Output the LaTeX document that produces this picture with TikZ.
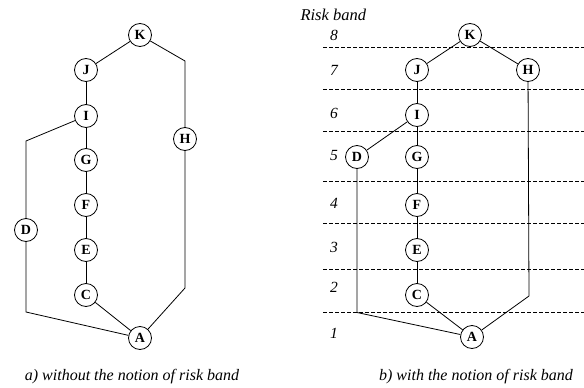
\documentclass[tikz,border=0pt]{standalone}
\usepackage{fontspec}
\setmainfont{Liberation Serif}
\begin{document}
\begin{tikzpicture}[x=1pt,y=-1pt,
  vtx/.style={circle,draw,line width=0.8pt,minimum size=23pt,inner sep=0pt,font=\fontsize{14}{14}\selectfont\bfseries},
  edge/.style={line width=0.8pt},
  band/.style={dash pattern=on 3.5pt off 2.5pt,line width=0.7pt},
  bandlbl/.style={font=\fontsize{15.5}{16}\selectfont\itshape},
  capt/.style={font=\fontsize{16}{17}\selectfont\itshape}]
\useasboundingbox (0,0) rectangle (584,388);
% ---- left diagram ----
\node[vtx] (aK) at (140,35) {K};
\node[vtx] (aJ) at (86,70) {J};
\node[vtx] (aI) at (86,116) {I};
\node[vtx] (aH) at (185,139) {H};
\node[vtx] (aG) at (86,160) {G};
\node[vtx] (aF) at (86,205) {F};
\node[vtx] (aD) at (26,230) {D};
\node[vtx] (aE) at (86,250) {E};
\node[vtx] (aC) at (86,295) {C};
\node[vtx] (aA) at (140,338) {A};
\coordinate (aKH) at (185,61);
\coordinate (aID) at (26,141);
\coordinate (aDA) at (26,312);
\coordinate (aHA) at (185,288);
\draw[edge] (aK) -- (aJ);
\draw[edge] (aJ) -- (aI);
\draw[edge] (aI) -- (aG);
\draw[edge] (aG) -- (aF);
\draw[edge] (aF) -- (aE);
\draw[edge] (aE) -- (aC);
\draw[edge] (aC) -- (aA);
\draw[edge] (aK) -- (aKH) -- (aH);
\draw[edge] (aI) -- (aID) -- (aD);
\draw[edge] (aD) -- (aDA) -- (aA);
\draw[edge] (aH) -- (aHA) -- (aA);
\node[capt] (captA) at (132,377) {a) without the notion of risk band};
% ---- right diagram ----
\node[bandlbl,anchor=west,font=\fontsize{16.5}{17}\selectfont\itshape] (rb) at (297,15) {Risk band};
\foreach \yy in {47.7,89.3,131.7,181,223.3,269.3,312.3} {
  \draw[band] (323,\yy) -- (584,\yy);
}
\node[bandlbl] (b8) at (334,35) {8};
\node[bandlbl] (b7) at (334,70) {7};
\node[bandlbl] (b6) at (334,113) {6};
\node[bandlbl] (b5) at (334,156) {5};
\node[bandlbl] (b4) at (334,203) {4};
\node[bandlbl] (b3) at (334,247) {3};
\node[bandlbl] (b2) at (334,287) {2};
\node[bandlbl] (b1) at (334,333) {1};
\node[vtx] (bK) at (470,35) {K};
\node[vtx] (bJ) at (417,70) {J};
\node[vtx] (bH) at (528,70) {H};
\node[vtx] (bI) at (417,115) {I};
\node[vtx] (bD) at (357,157) {D};
\node[vtx] (bG) at (417,157) {G};
\node[vtx] (bF) at (417,205) {F};
\node[vtx] (bE) at (417,250) {E};
\node[vtx] (bC) at (417,295) {C};
\node[vtx] (bA) at (472,337) {A};
\coordinate (bDA) at (357,312.5);
\coordinate (bHA) at (529,296);
\draw[edge] (bK) -- (bJ);
\draw[edge] (bK) -- (bH);
\draw[edge] (bJ) -- (bI);
\draw[edge] (bI) -- (bD);
\draw[edge] (bI) -- (bG);
\draw[edge] (bG) -- (bF);
\draw[edge] (bF) -- (bE);
\draw[edge] (bE) -- (bC);
\draw[edge] (bC) -- (bA);
\draw[edge] (bD) -- (bDA) -- (bA);
\draw[edge] (bH) -- (bHA) -- (bA);
\node[capt] (captB) at (476,377) {b) with the notion of risk band};
\end{tikzpicture}
\end{document}
